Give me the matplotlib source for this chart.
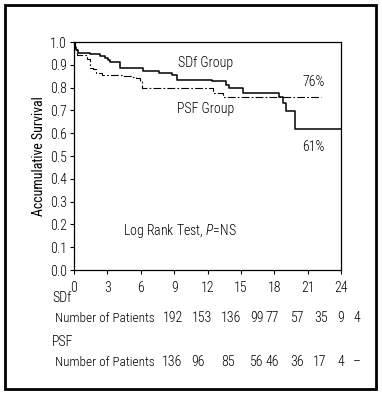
import matplotlib
matplotlib.use("Agg")
import matplotlib.pyplot as plt
from matplotlib.patches import Rectangle

plt.rcParams['font.family'] = ['Roboto Condensed', 'DejaVu Sans']
plt.rcParams['font.weight'] = 'light'
plt.rcParams['mathtext.fontset'] = 'custom'
plt.rcParams['mathtext.it'] = 'Roboto Condensed:italic:light'
plt.rcParams['mathtext.rm'] = 'Roboto Condensed:light'

# Kaplan-Meier curves (months, survival)
sdf_t = [0, 0.05, 0.1, 0.2, 0.35, 1.45, 2.3, 2.8, 3.1, 3.25, 4.1, 6.2, 7.6, 8.8, 9.3,
         12.4, 13.7, 13.9, 15.2, 18.45, 18.8, 19.06, 19.9, 24]
sdf_s = [1.0, 0.99, 0.98, 0.965, 0.953, 0.947, 0.938, 0.928, 0.92, 0.911, 0.886, 0.872,
         0.864, 0.856, 0.834, 0.83, 0.811, 0.797, 0.775, 0.757, 0.731, 0.697, 0.617, 0.617]

psf_t = [0, 0.1, 0.3, 1.1, 1.2, 1.45, 1.75, 2.0, 2.5, 4.4, 5.2, 5.6, 5.9, 6.1,
         12.5, 13.4, 22.2]
psf_s = [1.0, 0.975, 0.943, 0.935, 0.924, 0.885, 0.88, 0.865, 0.855, 0.849, 0.845,
         0.84, 0.83, 0.797, 0.778, 0.757, 0.757]

xticks = [0, 3, 6, 9, 12, 15, 18, 21, 24]
yticks = [0.0, 0.1, 0.2, 0.3, 0.4, 0.5, 0.6, 0.7, 0.8, 0.9, 1.0]

# numbers at risk, with their horizontal pixel positions in the table
sdf_n = ["192", "153", "136", "99", "77", "57", "35", "9", "4"]
psf_n = ["136", "96", "85", "56", "46", "36", "17", "4", "\u2013"]
sdf_nx = [172.5, 201.7, 230.8, 257, 272.5, 297.5, 320.8, 341, 356.7]
psf_nx = [172.5, 198, 227.5, 257, 272.5, 297.5, 320, 341, 356.7]

W, H = 382, 398
fs = 10
fig = plt.figure(figsize=(W / 100, H / 100), dpi=100)
ax = fig.add_axes([74 / W, 1 - 270 / H, 267 / W, 228 / H])

ax.step(sdf_t, sdf_s, where='post', color='black', lw=1.1)
ax.step(psf_t, psf_s, where='post', color='black', lw=0.8, dashes=(7, 2, 1.5, 2))

ax.set_xlim(0, 24)
ax.set_ylim(0, 1.0)
ax.set_xticks(xticks)
ax.set_yticks(yticks)
ax.set_yticklabels([f"{v:.1f}" for v in yticks])
ax.tick_params(labelsize=fs, length=3, width=0.8, direction='out')
ax.tick_params(axis='x', pad=5)
ax.tick_params(axis='y', pad=2)
for s in ax.spines.values():
    s.set_linewidth(0.9)
ax.set_ylabel("Accumulative Survival", fontsize=fs, labelpad=3)

ax.text(11.8, 0.908, "SDf Group", fontsize=fs, ha='center', va='center')
ax.text(11.85, 0.706, "PSF Group", fontsize=fs, ha='center', va='center')
ax.text(21.5, 0.826, "76%", fontsize=fs, ha='center', va='center')
ax.text(21.5, 0.541, "61%", fontsize=fs, ha='center', va='center')
ax.text(4.375, 0.171, "Log Rank Test, $\\mathit{P}$=NS", fontsize=fs, ha='left', va='center')

def px(x, y):
    return x / W, 1 - y / H

fig.text(*px(52, 298), "SDf", fontsize=fs, va='center')
fig.text(*px(55, 318), "Number of Patients", fontsize=9.5, va='center')
fig.text(*px(52, 342), "PSF", fontsize=fs, va='center')
fig.text(*px(55, 362), "Number of Patients", fontsize=9.5, va='center')
for x, n in zip(sdf_nx, sdf_n):
    fig.text(*px(x, 318), n, fontsize=fs, va='center', ha='center')
for x, n in zip(psf_nx, psf_n):
    fig.text(*px(x, 362), n, fontsize=fs, va='center', ha='center')

fig.patches.append(Rectangle((5 / W, 1 - 389 / H), 371 / W, 384 / H,
                             transform=fig.transFigure, fill=False,
                             edgecolor='black', lw=2))

fig.savefig("out.png", dpi=100)
